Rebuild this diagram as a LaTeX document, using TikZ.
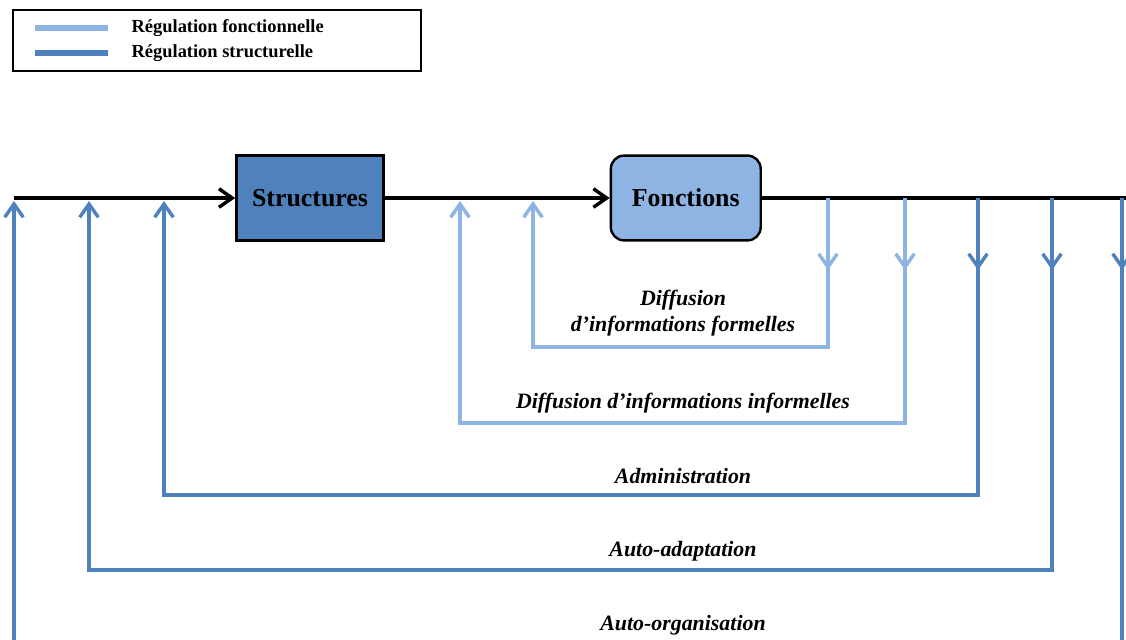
\documentclass[tikz,border=0pt]{standalone}
\usepackage{fontspec}
\setmainfont{Liberation Serif}
\usetikzlibrary{positioning,arrows.meta}

\definecolor{foncbleu}{RGB}{141,180,226}
\definecolor{strucbleu}{RGB}{79,129,189}

\begin{document}
\begin{tikzpicture}[x=0.0265cm,y=-0.0265cm,
    >={Straight Barb[length=10pt,width=14pt,line width=2.6pt]},
    every node/.style={align=center},
    bloc/.style={draw=black, line width=1.8pt, minimum width=111pt,
        minimum height=64pt, font=\bfseries\fontsize{19.5}{22}\selectfont},
    principal/.style={black, line width=3.2pt},
    fonc/.style={foncbleu, line width=3.2pt},
    struc/.style={strucbleu, line width=3.2pt},
    etiquette/.style={font=\bfseries\itshape\fontsize{16.5}{19.6}\selectfont},
    legende/.style={font=\bfseries\fontsize{13.9}{15}\selectfont, anchor=west},
]
\useasboundingbox (0,0) rectangle (1126,640);
\clip (0,0) rectangle (1126,640);

% legende
\node[draw, line width=1.8pt, minimum width=308pt, minimum height=46pt]
    (cadre) at (217,40.5) {};
\draw[fonc, line width=4pt] (35,28) -- (108,28);
\draw[struc, line width=4pt] (35,53) -- (108,53);
\node[legende] (lfonc) at (127,28) {Régulation fonctionnelle};
\node[legende] (lstruc) at (127,53) {Régulation structurelle};

% blocs
\node[bloc, fill=strucbleu] (structures) at (310,198) {Structures};
\node[bloc, fill=foncbleu, rounded corners=10pt, minimum width=113pt,
    right=5.96cm of structures] (fonctions) {Fonctions};

% chaine principale
\coordinate (entree) at (14,198);
\coordinate (sortie) at (1140,198);
\draw[principal,->] (entree) -- (structures);
\draw[principal,->] (structures) -- (fonctions);
\draw[principal] (fonctions) -- (sortie);

% points de depart et de retour
\coordinate (d1) at (828,198);
\coordinate (d2) at (905,198);
\coordinate (d3) at (978,198);
\coordinate (d4) at (1052,198);
\coordinate (d5) at (1122,198);
\coordinate (r1) at (533,201);
\coordinate (r2) at (460,201);
\coordinate (r3) at (164,201);
\coordinate (r4) at (89,201);
\coordinate (r5) at (14,201);

% regulation fonctionnelle
\draw[fonc,->] (d1) -- ++(0,72);
\draw[fonc,->] (d1) -- (828,347) -| (r1);
\draw[fonc,->] (d2) -- ++(0,72);
\draw[fonc,->] (d2) -- (905,423) -| (r2);

% regulation structurelle
\draw[struc,->] (d3) -- ++(0,72);
\draw[struc,->] (d3) -- (978,495) -| (r3);
\draw[struc,->] (d4) -- ++(0,72);
\draw[struc,->] (d4) -- (1052,570) -| (r4);
\draw[struc,->] (d5) -- ++(0,72);
\draw[struc,->] (d5) -- (1122,660) -| (r5);

% etiquettes
\node[etiquette] (formelles) at (683,313) {Diffusion\\d’informations formelles};
\node[etiquette] (informelles) at (683,403) {Diffusion d’informations informelles};
\node[etiquette] (admin) at (683,476) {Administration};
\node[etiquette] (adapt) at (683,551) {Auto-adaptation};
\node[etiquette] (orga) at (683,625) {Auto-organisation};
\end{tikzpicture}
\end{document}
